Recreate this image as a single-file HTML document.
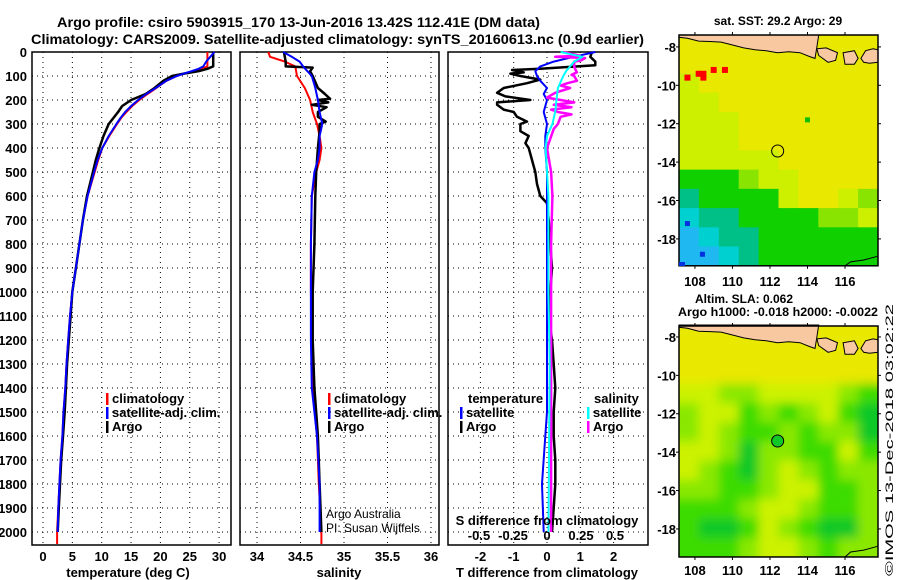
<!DOCTYPE html>
<html><head><meta charset="utf-8">
<style>
html,body{margin:0;padding:0;background:#fff;}
svg{display:block;font-family:"Liberation Sans",Arial,sans-serif;}
.b{font-weight:bold;font-size:13px;}
.t{font-weight:bold;font-size:14px;}
</style></head>
<body>
<svg id="chart" width="900" height="580" viewBox="0 0 900 580" xmlns="http://www.w3.org/2000/svg">
<defs>
<filter id="smooth" x="-5%" y="-5%" width="110%" height="110%"><feGaussianBlur stdDeviation="5"/></filter>
<clipPath id="clipSla"><rect x="679" y="326" width="199" height="231"/></clipPath>
<clipPath id="clipSst"><rect x="679" y="35" width="199" height="231"/></clipPath>
</defs>
<text class="t" x="57" y="27" textLength="483" lengthAdjust="spacingAndGlyphs">Argo profile: csiro 5903915_170 13-Jun-2016 13.42S 112.41E (DM data)</text>
<text class="t" x="31" y="44" textLength="613" lengthAdjust="spacingAndGlyphs">Climatology: CARS2009. Satellite-adjusted climatology: synTS_20160613.nc (0.9d earlier)</text>
<g id="p1"></g>
<g id="p2"></g>
<g id="p3"></g>
<g id="m1"></g>
<g id="m2"></g>
<text class="b" x="128" y="577" text-anchor="middle">temperature (deg C)</text>
<text class="b" x="339" y="577" text-anchor="middle">salinity</text>
<text class="b" x="547" y="577" text-anchor="middle">T difference from climatology</text>
<text class="b" x="547" y="525" text-anchor="middle">S difference from climatology</text>
<text x="326" y="518" font-size="12">Argo Australia</text>
<text x="326" y="532" font-size="12">PI: Susan Wijffels</text>
<text class="b" x="778" y="25" text-anchor="middle" style="font-size:12px">sat. SST: 29.2 Argo: 29</text>
<text class="b" x="744" y="303" text-anchor="middle" style="font-size:12px">Altim. SLA: 0.062</text>
<text class="b" x="778" y="316" text-anchor="middle" style="font-size:12px" textLength="200" lengthAdjust="spacingAndGlyphs">Argo h1000: -0.018 h2000: -0.0022</text>
<text transform="translate(893,440) rotate(-90)" text-anchor="middle" font-size="11" textLength="272" lengthAdjust="spacingAndGlyphs">©IMOS 13-Dec-2018 03:02:22</text>
</svg>
<script>
// ---------- data ----------
const tDepth = [0,20,40,60,70,80,90,100,120,150,175,200,225,250,275,300,350,400,450,500,600,700,800,900,1000,1100,1200,1300,1400,1500,1600,1700,1800,1900,2000,2050];
const tClim = [28.0,28.0,28.0,28.0,27.0,25.5,24.0,22.8,21.0,19.3,17.8,16.4,15.2,14.2,13.3,12.6,11.3,10.1,9.4,8.8,7.6,6.8,6.2,5.6,5.0,4.6,4.3,4.0,3.8,3.5,3.3,3.0,2.8,2.6,2.4,2.4];
const tSat = [29.2,28.5,27.8,27.3,26.5,25.3,24.0,22.8,21.0,19.2,17.6,16.2,15.0,14.0,13.2,12.5,11.2,10.1,9.3,8.7,7.6,6.8,6.2,5.6,5.0,4.6,4.3,4.0,3.8,3.5,3.3,3.0,2.8,2.6,2.5];
const tArgo = [29.0,29.0,29.0,29.0,28.0,26.5,24.0,22.0,20.5,19.0,17.5,15.0,13.5,12.8,12.0,11.2,10.3,9.6,9.0,8.5,7.5,6.8,6.2,5.6,5.0,4.7,4.4,4.1,3.9,3.7,3.4,3.1,2.9,2.7,2.5];
const sDepth = [0,20,40,60,100,150,200,250,300,350,400,450,500,600,800,1000,1200,1400,1600,1800,2000,2050];
const sClim = [34.13,34.15,34.32,34.44,34.46,34.55,34.61,34.64,34.69,34.72,34.74,34.72,34.68,34.63,34.62,34.62,34.63,34.64,34.69,34.71,34.74,34.74];
const sSat = [34.30,34.40,34.49,34.53,34.63,34.67,34.70,34.72,34.75,34.72,34.72,34.70,34.66,34.63,34.62,34.62,34.62,34.63,34.69,34.72,34.72];
const sArgoDepth = [0,20,40,60,65,80,100,150,175,195,200,210,220,230,250,270,290,300,330,400,500,600,800,1000,1200,1400,1600,1800,2000];
const sArgo = [34.31,34.32,34.33,34.33,34.64,34.61,34.64,34.70,34.78,34.84,34.70,34.82,34.63,34.80,34.70,34.70,34.79,34.72,34.72,34.70,34.68,34.67,34.66,34.64,34.64,34.66,34.70,34.72,34.74];
const dTArgoDepth = [0,20,40,55,70,75,85,90,100,115,130,150,170,185,200,210,220,240,250,270,290,300,330,350,380,400,450,500,550,600,630,700,800,900,1000,1100,1200,1300,1400,1500,1600,1700,1800,1900,2000];
const dTArgo = [1.35,1.3,1.45,1.45,-0.2,-1.05,-0.7,-1.1,-0.8,-0.2,-0.6,-1.3,-1.5,-1.25,-0.5,-1.5,-1.5,-1.3,-1.0,-0.9,-0.6,-0.8,-0.8,-0.55,-0.65,-0.55,-0.45,-0.35,-0.3,-0.2,0.0,0.05,0.1,0.15,0.1,0.05,0.15,0.2,0.25,0.2,0.2,0.25,0.25,0.2,0.15];
const dTSatDepth = [0,20,40,60,80,100,120,150,175,200,250,300,350,400,500,700,1000,1500,1600,1800,2000];
const dTSat = [1.45,0.8,0.2,-0.2,-0.35,-0.3,-0.2,0.0,-0.1,0.0,-0.1,0.0,-0.05,-0.05,0.0,0.0,0.0,0.0,-0.05,-0.15,-0.1];
const dSArgoDepth = [0,15,20,25,35,40,60,75,85,95,100,120,130,140,150,170,190,200,210,220,230,240,250,260,270,300,320,400,500,600,800,1000,1400,2000];
const dSArgo = [0.12,0.24,0.06,0.28,0.25,0.2,0.2,0.21,0.22,0.18,0.2,0.22,0.15,0.1,0.17,0.06,0.0,0.1,0.2,0.05,0.18,0.03,0.08,0.18,0.1,0.08,0.05,0.0,0.03,0.04,0.03,0.03,0.03,0.03];
const dSSatDepth = [0,20,40,60,80,100,150,200,250,300,350,400,500,600,800,1000,1300,2000];
const dSSat = [0.1,0.26,0.2,0.17,0.14,0.12,0.08,0.07,0.06,0.04,0.0,-0.01,0.0,0.01,0.01,0.01,0.02,0.01];
const depthTicks = [0,100,200,300,400,500,600,700,800,900,1000,1100,1200,1300,1400,1500,1600,1700,1800,1900,2000];
const tTicks = [0,5,10,15,20,25,30];
const sTicks = [34,34.5,35,35.5,36];
const dTTicks = [-2,-1,0,1,2];
const dSTicks = [-0.5,-0.25,0,0.25,0.5];
const dSTickLabels = ['-0.5','-0.25','0','0.25','0.5'];
const lonTicks = [108,110,112,114,116];
const latTicks = [-8,-10,-12,-14,-16,-18];
const sstGrid = ["0000000000","0000000000","1000000000","1100000000","1110000000","1110000000","1111100000","3332110000","4333310012","5443333221","6544333333","6654333333"];
const slaGrid = ["0000000000","0000000000","0000000000","1122111123","2113232134","2123323224","1124223313","1234212322","2233211332","3332112332","3443123442","3332112322"];
const argoLon = 112.41, argoLat = -13.42;
const redLon = [107.6,108.2,108.45,108.45,109.0,109.6], redLat = [-9.6,-9.4,-9.6,-9.4,-9.2,-9.2];

// ---------- helpers ----------
const NS = "http://www.w3.org/2000/svg";
function mk(parent, tag, attrs, name, inter) {
  const el = document.createElementNS(NS, tag);
  for (const k in attrs) el.setAttribute(k, attrs[k]);
  
  
  parent.appendChild(el);
  return el;
}
const yD = d => 52 + d * 0.24;
const xT = t => 43 + t * 5.87;
const xS = s => 257 + (s - 34) * 87;
const xDT = t => 547 + t * 33.3;
const xDS = s => 547 + s * 136;
const Y0 = 52, Y1 = 545;
function line(parent, xs, ds, fx, color, name, w) {
  const pts = xs.map((v, i) => fx(v).toFixed(1) + ',' + yD(ds[i]).toFixed(1)).join(' ');
  mk(parent, 'polyline', {points: pts, fill: 'none', stroke: color, 'stroke-width': w || 2, 'stroke-linejoin': 'round'}, name, false);
}
function panel(g, x0, x1, xt, fx, labels, showY) {
  depthTicks.forEach(d => {
    mk(g, 'line', {x1: x0, x2: x1, y1: yD(d), y2: yD(d), stroke: '#000', 'stroke-dasharray': '1,4'}, 'grid-line-h', false);
    if (showY) {
      const t = mk(g, 'text', {x: 27, y: yD(d) + 5, 'text-anchor': 'end', class: 'b'}, 'depth-tick-label', false);
      t.textContent = d;
    }
  });
  xt.forEach((v, i) => {
    mk(g, 'line', {x1: fx(v), x2: fx(v), y1: Y0, y2: Y1, stroke: '#000', 'stroke-dasharray': '1,4'}, 'grid-line-v', false);
    const t = mk(g, 'text', {x: fx(v), y: 561, 'text-anchor': 'middle', class: 'b'}, 'x-tick-label', false);
    t.textContent = labels ? labels[i] : v;
  });
  mk(g, 'rect', {x: x0, y: Y0, width: x1 - x0, height: Y1 - Y0, fill: 'none', stroke: '#000', 'stroke-width': 1.5}, 'panel-frame', false);
}
function legend(g, x, y, color, label) {
  mk(g, 'rect', {x: x, y: y - 10, width: 2.5, height: 12, fill: color}, 'legend-swatch', false);
  const t = mk(g, 'text', {x: x + 6, y: y, class: 'b'}, 'legend-entry', false);
  t.textContent = label;
}

// ---------- panel 1 ----------
const p1 = document.getElementById('p1');
panel(p1, 32, 231, tTicks, xT, null, true);
line(p1, tClim, tDepth, xT, '#f00', 'climatology-temperature-line');
line(p1, tArgo, tDepth.slice(0, tArgo.length), xT, '#000', 'argo-temperature-line', 2.5);
line(p1, tSat, tDepth.slice(0, tSat.length), xT, '#00f', 'satellite-temperature-line');
legend(p1, 106, 403, '#f00', 'climatology');
legend(p1, 106, 417, '#00f', 'satellite-adj. clim.');
legend(p1, 106, 431, '#000', 'Argo');

// ---------- panel 2 ----------
const p2 = document.getElementById('p2');
panel(p2, 240, 439, sTicks, xS, null, false);
line(p2, sClim, sDepth, xS, '#f00', 'climatology-salinity-line');
line(p2, sArgo, sArgoDepth, xS, '#000', 'argo-salinity-line', 2.5);
line(p2, sSat, sDepth.slice(0, sSat.length), xS, '#00f', 'satellite-salinity-line');
legend(p2, 328, 403, '#f00', 'climatology');
legend(p2, 328, 417, '#00f', 'satellite-adj. clim.');
legend(p2, 328, 431, '#000', 'Argo');

// ---------- panel 3 ----------
const p3 = document.getElementById('p3');
panel(p3, 448, 648, dTTicks, xDT, null, false);
dSTicks.forEach((v, i) => {
  const t = mk(p3, 'text', {x: xDS(v), y: 540, 'text-anchor': 'middle', class: 'b'}, 's-diff-tick-label', false);
  t.textContent = dSTickLabels[i];
});
line(p3, dTArgo, dTArgoDepth, xDT, '#000', 'argo-t-diff-line', 2.5);
line(p3, dTSat, dTSatDepth, xDT, '#00f', 'satellite-t-diff-line');
line(p3, dSArgo, dSArgoDepth, xDS, '#f0f', 'argo-s-diff-line', 2.5);
line(p3, dSSat, dSSatDepth, xDS, '#0ff', 'satellite-s-diff-line');
const lt = mk(p3, 'text', {x: 468, y: 403, class: 'b'}, 'legend-temperature-heading', false);
lt.textContent = 'temperature';
legend(p3, 460, 417, '#00f', 'satellite');
legend(p3, 460, 431, '#000', 'Argo');
const ls = mk(p3, 'text', {x: 594, y: 403, class: 'b'}, 'legend-salinity-heading', false);
ls.textContent = 'salinity';
legend(p3, 587, 417, '#0ff', 'satellite');
legend(p3, 587, 431, '#f0f', 'Argo');

// ---------- maps ----------
const sstColors = ['#e8e800','#ccf000','#88e400','#10d000','#00c088','#00d0d0','#20b8f0'];
const slaColors = ['#e8e800','#ccf200','#8ae800','#3cdc00','#10c828'];
const land = [
  [[107.15,-7.38],[107.15,-7.5],[107.6,-7.55],[108.2,-7.7],[108.8,-7.72],[109.4,-7.75],[110,-7.9],[110.6,-8.05],[111.2,-8.15],[111.8,-8.2],[112.4,-8.3],[113,-8.25],[113.6,-8.3],[114.1,-8.5],[114.4,-8.6],[114.5,-8.0],[114.6,-7.38]],
  [[114.5,-8.1],[115.0,-8.05],[115.6,-8.3],[115.5,-8.7],[115.1,-8.8],[114.6,-8.45]],
  [[115.9,-8.3],[116.5,-8.2],[116.7,-8.6],[116.5,-8.9],[116.0,-8.9]],
  [[116.85,-8.6],[117.1,-8.2],[117.5,-8.1],[117.76,-8.15],[117.76,-8.8],[117.3,-8.85],[117.0,-8.8]]
];
const lon0 = 107.15, lon1 = 117.76, mx0 = 679, mx1 = 878;
function drawMap(g, top, grid, colors, latTop, latBot, circleFill, labY, smooth, clipId) {
  const fx = lon => mx0 + (lon - lon0) / (lon1 - lon0) * (mx1 - mx0);
  const fy = lat => top + (latTop - lat) * 19.2;
  const bot = fy(latBot);
  const rows = grid.length, cols = grid[0].length;
  const cw = (mx1 - mx0) / cols, ch = (bot - top) / rows;
  const clipG = mk(g, 'g', {'clip-path': 'url(#' + clipId + ')'}, 'map-field-clip', false);
  const cellsG = mk(clipG, 'g', smooth ? {filter: 'url(#smooth)'} : {}, 'map-field', false);
  grid.forEach((row, r) => {
    for (let c = 0; c < cols; c++) {
      const ex = smooth && c === cols - 1 ? 12 : 0;
      const exL = smooth && c === 0 ? 12 : 0;
      const ey = smooth && r === rows - 1 ? 12 : 0;
      mk(cellsG, 'rect', {x: mx0 + c * cw - exL, y: top + r * ch - (smooth && r === 0 ? 12 : 0), width: cw + 0.5 + ex + exL, height: ch + 0.5 + ey + (smooth && r === 0 ? 12 : 0), fill: colors[+row[c]]}, 'map-cell', false);
    }
  });
  land.forEach(poly => {
    mk(g, 'polygon', {points: poly.map(p => fx(p[0]).toFixed(1) + ',' + fy(p[1]).toFixed(1)).join(' '), fill: '#f8c8a0', stroke: '#000', 'stroke-width': 1}, 'land-mass', false);
  });
  mk(g, 'polyline', {points: [[116,latBot],[116.3,-19.2],[117,-19.1],[117.76,-18.9]].map(p => fx(p[0]).toFixed(1) + ',' + fy(p[1]).toFixed(1)).join(' '), fill: 'none', stroke: '#000'}, 'coastline', false);
  mk(g, 'circle', {cx: fx(argoLon), cy: fy(argoLat), r: 6, fill: circleFill, stroke: '#000', 'stroke-width': 1}, 'argo-location-marker', false);
  mk(g, 'rect', {x: mx0, y: top, width: mx1 - mx0, height: bot - top, fill: 'none', stroke: '#000', 'stroke-width': 1.5}, 'map-frame', false);
  lonTicks.forEach(v => {
    mk(g, 'line', {x1: fx(v), x2: fx(v), y1: top - 3, y2: top, stroke: '#000'}, 'lon-tick', false);
    mk(g, 'line', {x1: fx(v), x2: fx(v), y1: bot, y2: bot + 3, stroke: '#000'}, 'lon-tick', false);
    const t = mk(g, 'text', {x: fx(v), y: labY, 'text-anchor': 'middle', class: 'b'}, 'lon-tick-label', false);
    t.textContent = v;
  });
  latTicks.forEach(v => {
    mk(g, 'line', {x1: mx0 - 3, x2: mx0, y1: fy(v), y2: fy(v), stroke: '#000'}, 'lat-tick', false);
    mk(g, 'line', {x1: mx1, x2: mx1 + 3, y1: fy(v), y2: fy(v), stroke: '#000'}, 'lat-tick', false);
    const t = mk(g, 'text', {x: 676, y: fy(v) + 5, 'text-anchor': 'end', class: 'b'}, 'lat-tick-label', false);
    t.textContent = v;
  });
  return {fx, fy};
}
const m1 = document.getElementById('m1');
const pr1 = drawMap(m1, 35, sstGrid, sstColors, -7.38, -19.4, 'none', 286, false, 'clipSst');
redLon.forEach((lo, i) => {
  mk(m1, 'rect', {x: pr1.fx(lo) - 3, y: pr1.fy(redLat[i]) - 3, width: 6, height: 6, fill: '#f00'}, 'warm-sst-pixel', false);
});
mk(m1, 'rect', {x: pr1.fx(114) - 2.5, y: pr1.fy(-11.8) - 2.5, width: 5, height: 5, fill: '#10c000'}, 'sst-pixel', false);
mk(m1, 'rect', {x: pr1.fx(107.6) - 2.5, y: pr1.fy(-17.2) - 2.5, width: 5, height: 5, fill: '#0030e0'}, 'cold-sst-pixel', false);
mk(m1, 'rect', {x: pr1.fx(108.4) - 2.5, y: pr1.fy(-18.8) - 2.5, width: 5, height: 5, fill: '#0030e0'}, 'cold-sst-pixel', false);
mk(m1, 'rect', {x: 679, y: 262, width: 6, height: 4, fill: '#0030e0'}, 'cold-sst-pixel', false);
const m2 = document.getElementById('m2');
drawMap(m2, 326, slaGrid, slaColors, -7.43, -19.46, '#10c828', 575, true, 'clipSla');
</script>
</body></html>
